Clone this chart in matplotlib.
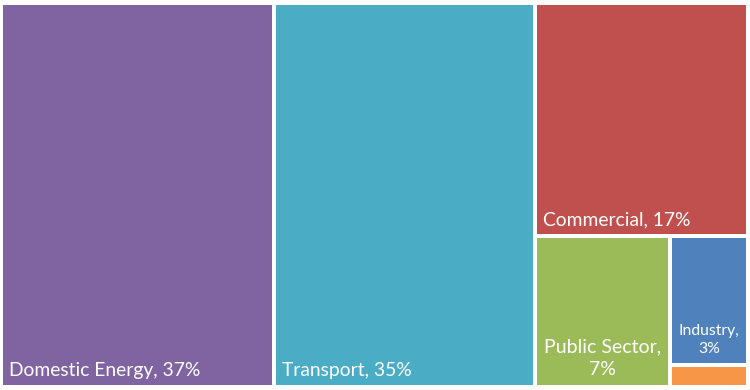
import matplotlib
matplotlib.use("Agg")
import matplotlib.pyplot as plt
from matplotlib.patches import Rectangle

# Data
categories = ["Domestic Energy", "Transport", "Commercial", "Public Sector", "Industry", "Other"]
values = [36.6, 34.9, 17.3, 7.1, 3.5, 0.6]
labels = ["Domestic Energy, 37%", "Transport, 35%", "Commercial, 17%", "Public Sector,\n7%", "Industry,\n3%", ""]
colors = ["#8064A2", "#4BACC6", "#C0504D", "#9BBB59", "#4F81BD", "#F79646"]
font_sizes = [13.9, 13.9, 13.9, 14.0, 11.3, 9]


def worst(row, w):
    s = sum(row)
    return max(max(w * w * r / (s * s), (s * s) / (w * w * r)) for r in row)


def squarify(vals, x, y, dx, dy):
    total = sum(vals)
    scale = dx * dy / total
    areas = [v * scale for v in vals]
    rects = []
    i = 0
    while i < len(areas):
        w = min(dx, dy)
        row = [areas[i]]
        j = i + 1
        while j < len(areas) and worst(row + [areas[j]], w) <= worst(row, w):
            row.append(areas[j])
            j += 1
        s = sum(row)
        if dx >= dy:
            cw = s / dy
            yy = y
            for a in row:
                h = a / cw
                rects.append((x, yy, cw, h))
                yy += h
            x += cw
            dx -= cw
        else:
            rh = s / dx
            xx = x
            for a in row:
                ww = a / rh
                rects.append((xx, y, ww, rh))
                xx += ww
            y += rh
            dy -= rh
        i = j
    return rects


W, H = 750, 390
fig = plt.figure(figsize=(W / 100, H / 100), dpi=100)
ax = fig.add_axes([0, 0, 1, 1])
ax.set_xlim(0, W)
ax.set_ylim(H, 0)
ax.axis("off")

x0, y0, x1, y1 = 1, 3, 748, 387
rects = squarify(values, x0, y0, x1 - x0, y1 - y0)
g = 2
for (x, y, w, h), lab, c, fs in zip(rects, labels, colors, font_sizes):
    ax.add_patch(Rectangle((x + g, y + g), w - 2 * g, h - 2 * g, facecolor=c, edgecolor="none"))
    if not lab:
        continue
    if "\n" in lab:
        ax.text(x + w / 2, y + h - g - 7, lab, ha="center", va="bottom", color="white",
                fontsize=fs, family="Lato", linespacing=1.4, multialignment="center")
    else:
        ax.text(x + g + 6, y + h - g - 6, lab, ha="left", va="bottom", color="white",
                fontsize=fs, family="Lato")

fig.savefig("out.png", dpi=100)
